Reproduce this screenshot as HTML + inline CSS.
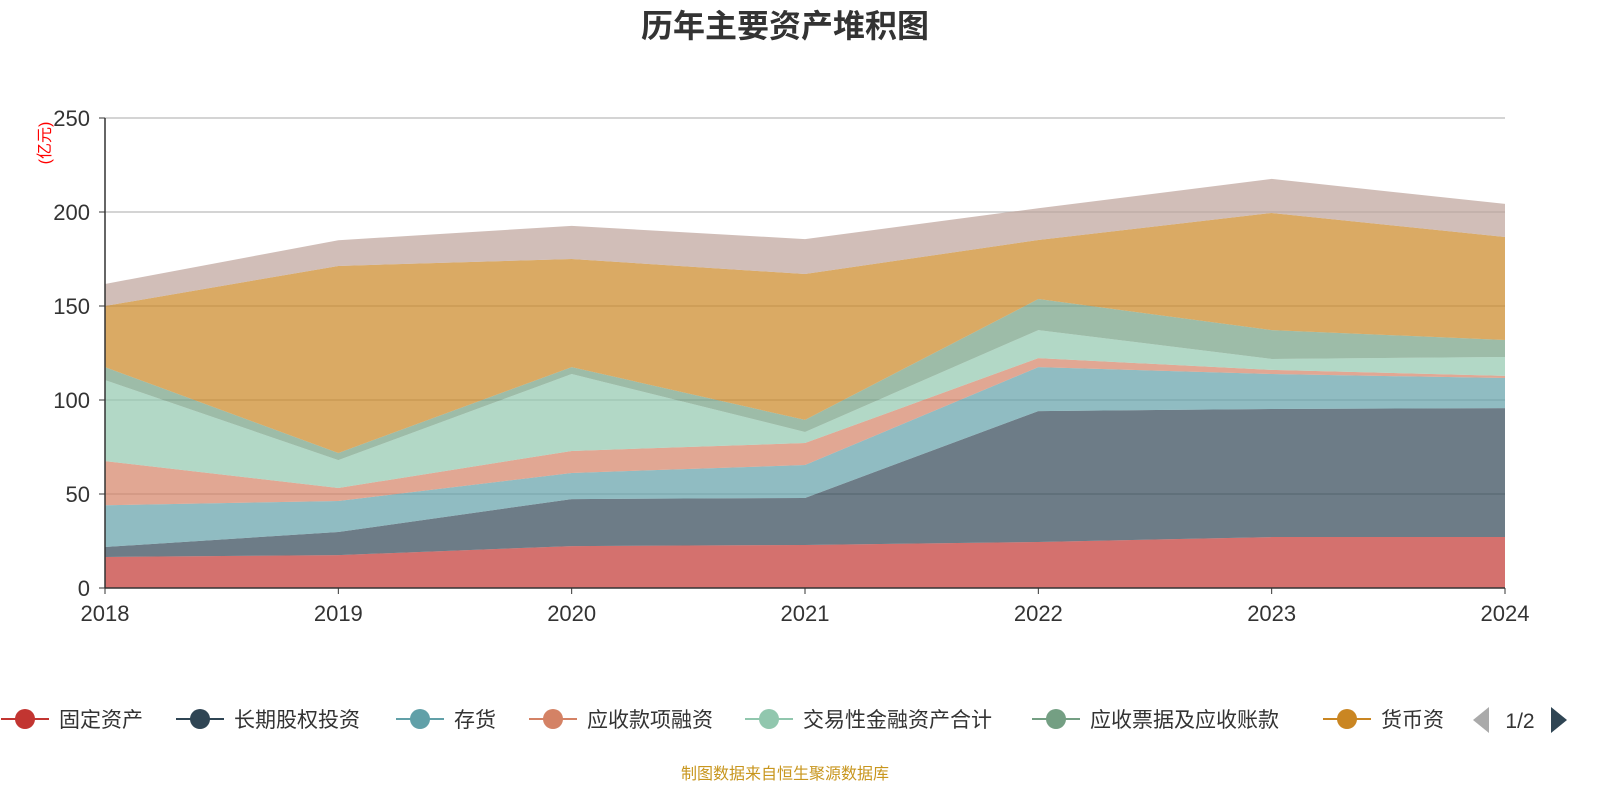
<!DOCTYPE html>
<html><head><meta charset="utf-8"><style>
body{margin:0;background:#fff;width:1600px;height:800px;overflow:hidden;font-family:"Liberation Sans","Noto Sans CJK SC",sans-serif}
</style></head><body>
<svg id="chart" width="1600" height="800" xmlns="http://www.w3.org/2000/svg" font-family="'Liberation Sans','Noto Sans CJK SC',sans-serif">
<text x="785" y="37" text-anchor="middle" font-size="32" font-weight="bold" fill="#333">历年主要资产堆积图</text>
<text transform="translate(50,143) rotate(-90)" text-anchor="middle" font-size="16" fill="#ff0000">(亿元)</text>
<g id="grid"></g><g id="areas"></g><g id="axes"></g><g id="legend"></g>
<text x="785" y="779" text-anchor="middle" font-size="16" fill="#c8961e">制图数据来自恒生聚源数据库</text>
</svg>
<script>
const years=["2018","2019","2020","2021","2022","2023","2024"];
const yTicks=[0,50,100,150,200,250];
const names=["固定资产","长期股权投资","存货","应收款项融资","交易性金融资产合计","应收票据及应收账款","货币资金","其他"];
const fixedAssets=[16.5,17.5,22.3,22.9,24.5,27.1,27.1];
const ltEquity=[5.3,12.3,25.0,25.0,69.6,68.1,68.6];
const inventory=[22.2,16.5,13.9,17.5,23.4,18.6,16.0];
const receivableFin=[23.5,6.9,11.7,11.7,4.8,2.2,1.1];
const tradingAssets=[43.1,14.8,40.9,5.9,14.9,5.8,10.1];
const notesReceivable=[6.9,3.8,3.7,6.4,16.5,15.4,9.0];
const cash=[32.5,99.5,57.5,77.6,31.4,62.3,54.8];
const others=[11.7,13.7,17.6,18.6,16.9,18.1,17.6];
const series=[fixedAssets,ltEquity,inventory,receivableFin,tradingAssets,notesReceivable,cash,others];
const colors=["#c23531","#2f4554","#61a0a8","#d48265","#91c7ae","#749f83","#ca8622","#bda29a"];
const NS="http://www.w3.org/2000/svg";
const x0=105,x1=1505,y0=588,yTop=118,yMax=250;
const X=i=>x0+i*(x1-x0)/(years.length-1);
const Y=v=>y0-v*(y0-yTop)/yMax;
function mk(t,a,p){const e=document.createElementNS(NS,t);for(const k in a)e.setAttribute(k,a[k]);p.appendChild(e);return e;}
const grid=document.getElementById('grid'),axes=document.getElementById('axes'),areas=document.getElementById('areas'),legend=document.getElementById('legend');
yTicks.forEach(v=>{
 if(v>0){const l=mk('line',{x1:x0,x2:x1,y1:Y(v),y2:Y(v),stroke:'#bbb','stroke-width':1.2},grid);
 
 }
 const t=mk('text',{x:90,y:Y(v)+8,'text-anchor':'end','font-size':22,fill:'#333'},axes);t.textContent=v;
 
 
 mk('line',{x1:x0-6,x2:x0,y1:Y(v),y2:Y(v),stroke:'#333'},axes);
});
let base=years.map(()=>0);
series.forEach((s,k)=>{
 const top=base.map((b,i)=>b+s[i]);
 let d='M'+years.map((_,i)=>X(i)+','+Y(top[i])).join('L');
 for(let i=years.length-1;i>=0;i--)d+='L'+X(i)+','+Y(base[i]);
 const p=mk('path',{d:d+'Z',fill:colors[k],'fill-opacity':0.7},areas);
 
 
 base=top;
});
mk('line',{x1:x0,x2:x0,y1:yTop,y2:y0,stroke:'#333','stroke-width':1.5},axes);
mk('line',{x1:x0,x2:x1,y1:y0,y2:y0,stroke:'#333','stroke-width':1.5},axes);
years.forEach((yr,i)=>{
 mk('line',{x1:X(i),x2:X(i),y1:y0,y2:y0+6,stroke:'#333'},axes);
 const t=mk('text',{x:X(i),y:621,'text-anchor':'middle','font-size':22,fill:'#333'},axes);t.textContent=yr;
 
 
});
const lx=[25,200,420,553,769,1056,1347];
const labels=["固定资产","长期股权投资","存货","应收款项融资","交易性金融资产合计","应收票据及应收账款","货币资"];
labels.forEach((n,k)=>{
 const g=mk('g',{},legend);
 
 
 mk('line',{x1:lx[k]-24,x2:lx[k]+24,y1:719,y2:719,stroke:colors[k],'stroke-width':2},g);
 mk('circle',{cx:lx[k],cy:719,r:10,fill:colors[k]},g);
 const t=mk('text',{x:lx[k]+34,y:727,'font-size':21,fill:'#333'},g);t.textContent=n;
});
const pl=mk('path',{d:'M1489,707L1473,720L1489,733Z',fill:'#aaa'},legend);


const pt=mk('text',{x:1520,y:728,'text-anchor':'middle','font-size':21,fill:'#333'},legend);pt.textContent='1/2';


const pn=mk('path',{d:'M1551,707L1567,720L1551,733Z',fill:'#2f4554'},legend);


</script>
</body></html>
